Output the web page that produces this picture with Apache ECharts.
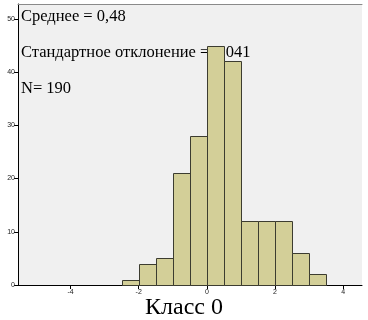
<!DOCTYPE html>
<html><head><meta charset="utf-8">
<script src="https://cdn.jsdelivr.net/npm/echarts@6/dist/echarts.min.js"></script>
<style>html,body{margin:0;padding:0;background:#fff}#c{width:368px;height:320px}</style>
</head><body><div id="c"></div>
<script>
const binStarts = [-2.5, -2.0, -1.5, -1.0, -0.5, 0.0, 0.5, 1.0, 1.5, 2.0, 2.5, 3.0];
const binEnds   = [-2.0, -1.5, -1.0, -0.5, 0.0, 0.5, 1.0, 1.5, 2.0, 2.5, 3.0, 3.5];
const counts    = [1, 4, 5, 21, 28, 45, 42, 12, 12, 12, 6, 2];
const xTicks = [-4, -2, 0, 2, 4];
const yTicks = [0, 10, 20, 30, 40, 50];
const statLines = ['Среднее = 0,48', 'Стандартное отклонение = 1,041', 'N= 190'];
const titleText = 'Класс 0';

const data = binStarts.map((s, i) => [s, binEnds[i], counts[i]]);
const chart = echarts.init(document.getElementById('c'), null, {renderer: 'canvas'});
const serif = '"Liberation Serif", "DejaVu Serif", serif';
chart.setOption({
  animation: false,
  backgroundColor: '#ffffff',
  grid: {left: 18, right: 6, top: 4, bottom: 35, show: true, backgroundColor: '#f0f0f0', borderWidth: 0, z: 0},
  xAxis: [{
    type: 'value', min: -5.54, max: 4.55,
    axisLine: {show: true, onZero: false, lineStyle: {color: '#000', width: 1}},
    axisTick: {show: true, length: 4, customValues: xTicks, lineStyle: {color: '#000'}},
    axisLabel: {customValues: xTicks, fontSize: 7, color: '#222', margin: 4, fontFamily: 'Arial, "Liberation Sans", sans-serif'},
    splitLine: {show: false}
  }, {
    type: 'value', min: -5.54, max: 4.55, position: 'top',
    axisLine: {show: true, onZero: false, lineStyle: {color: '#8a8a8a', width: 1}},
    axisTick: {show: false}, axisLabel: {show: false}, splitLine: {show: false}
  }],
  yAxis: {
    type: 'value', min: 0, max: 52.8, position: 'left',
    axisLine: {show: true, onZero: false, lineStyle: {color: '#000', width: 1}},
    axisTick: {show: true, length: 4, customValues: yTicks, lineStyle: {color: '#000'}},
    axisLabel: {customValues: yTicks, fontSize: 7, color: '#222', margin: 3, fontFamily: 'Arial, "Liberation Sans", sans-serif'},
    splitLine: {show: false}
  },
  graphic: [
    {type: 'text', left: 21, top: 8, z: 1, style: {text: statLines[0], font: '16.5px ' + serif, fill: '#000'}},
    {type: 'text', left: 21, top: 44, z: 1, style: {text: statLines[1], font: '16.5px ' + serif, fill: '#000'}},
    {type: 'text', left: 21, top: 80, z: 1, style: {text: statLines[2], font: '16.5px ' + serif, fill: '#000'}},
    {type: 'text', left: 'center', top: 296, z: 1, style: {text: titleText, font: '24px ' + serif, fill: '#000'}}
  ],
  series: [{
    type: 'custom', z: 5,
    encode: {x: [0, 1], y: 2},
    data: data,
    renderItem: function (params, api) {
      const p0 = api.coord([api.value(0), api.value(2)]);
      const p1 = api.coord([api.value(1), 0]);
      return {type: 'rect',
        shape: {x: Math.round(p0[0]) + 0.5, y: Math.round(p0[1]) + 0.5, width: Math.round(p1[0]) - Math.round(p0[0]), height: Math.round(p1[1]) - Math.round(p0[1])},
        style: {fill: '#d3cf98', stroke: '#3c3c30', lineWidth: 1}};
    }
  }]
});
</script></body></html>
